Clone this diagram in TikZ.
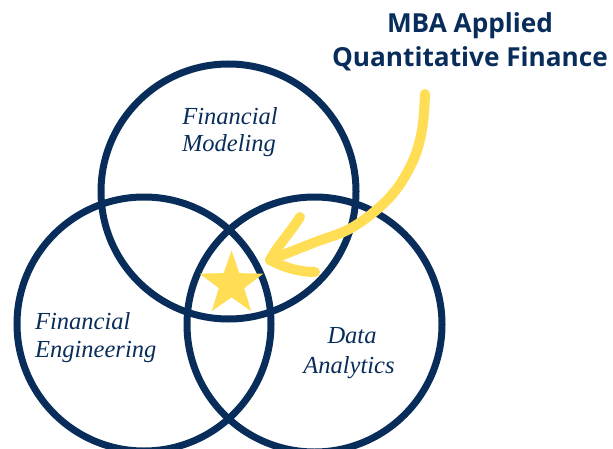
\documentclass[tikz,border=0pt]{standalone}
\usepackage{fontspec}
\setmainfont{Liberation Serif}
\newfontfamily\titlefont{Open Sans}
\newfontfamily\labelfont{Liberation Serif}
\usetikzlibrary{shapes.geometric}
\definecolor{navy}{RGB}{9,45,90}
\definecolor{gold}{RGB}{255,221,85}
\tikzset{
  ring/.style={draw=navy, line width=7pt},
  lbl/.style={text=navy, font=\labelfont\itshape\fontsize{24.5}{28}\selectfont, inner sep=0pt, anchor=base},
  ttl/.style={text=navy, font=\titlefont\bfseries\fontsize{26.2}{34}\selectfont, inner sep=0pt, anchor=base},
  swoosh/.style={draw=gold, line width=10pt, line cap=round, line join=round}
}
\begin{document}
\begin{tikzpicture}[x=1pt,y=1pt]
\useasboundingbox (0,0) rectangle (613,448);
% circles
\draw[ring] (228.5,256.5) circle[radius=127.5];
\draw[ring] (144,124) circle[radius=127];
\draw[ring] (314.5,123.5) circle[radius=127.5];
% star
\node[star, star points=5, star point ratio=2.5, minimum size=67pt, inner sep=0pt, fill=gold] (star) at (231.5,164) {};
% arrow
\coordinate (a0) at (425,354);
\coordinate (tip) at (270,188);
\draw[swoosh] plot[smooth, tension=0.6] coordinates {(a0) (422,318) (412,285) (390,251) (353,221) (313,205) (tip)};
\draw[swoosh] (300,231) .. controls (290,215) and (276,200) .. (tip);
\draw[swoosh] (tip) .. controls (285,180) and (300,176) .. (315,176);
% title
\node[ttl] (t1) at (470,415) {MBA Applied};
\node[ttl] (t2) at (470,381) {Quantitative Finance};
% labels
\node[lbl] (fm1) at (230,323) {Financial};
\node[lbl] (fm2) at (229,296) {Modeling};
\node[lbl, anchor=base west] (fe1) at (35,119) {Financial};
\node[lbl, anchor=base west] (fe2) at (35,91) {Engineering};
\node[lbl] (da1) at (352,105) {Data};
\node[lbl] (da2) at (349,75) {Analytics};
\end{tikzpicture}
\end{document}
